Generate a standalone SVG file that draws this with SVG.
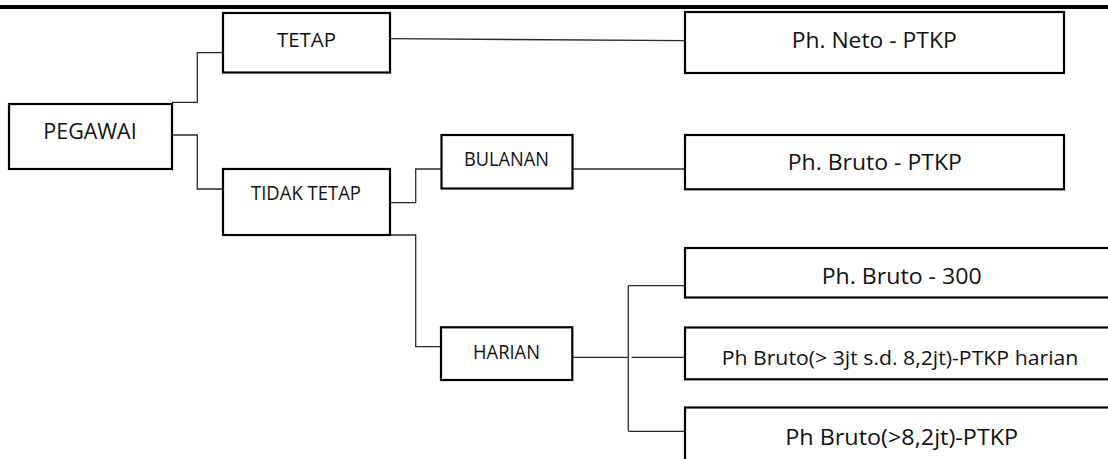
<svg xmlns="http://www.w3.org/2000/svg" width="1108" height="459" viewBox="0 0 1108 459">
<style>
.box{fill:#fff;stroke:#000;stroke-width:2.2}
.conn{fill:none;stroke:#2a2a2a;stroke-width:1.3}
text{font-family:"Open Sans","Noto Sans","Liberation Sans",sans-serif;fill:#111;text-anchor:middle}
.s{font-size:19.5px}
.l{font-size:22.5px}
</style>
<rect x="0" y="0" width="1108" height="459" fill="#fff"/>
<rect x="0" y="5" width="1108" height="4" fill="#000"/>
<g id="connectors">
<polyline class="conn" points="172,102.3 197.3,102.3 197.3,52.7 223,52.7"/>
<polyline class="conn" points="172,135 197.3,135 197.3,189 223,189"/>
<line class="conn" x1="390" y1="38.7" x2="685" y2="40.7"/>
<polyline class="conn" points="390,202.7 415.7,202.7 415.7,169 441,169"/>
<polyline class="conn" points="390,235 415.7,235 415.7,346.7 441,346.7"/>
<line class="conn" x1="572" y1="169" x2="685" y2="169"/>
<line class="conn" x1="572" y1="357.3" x2="628.3" y2="357.3"/>
<line class="conn" x1="631.5" y1="357.3" x2="685" y2="357.3"/>
<line class="conn" x1="628.3" y1="285.7" x2="628.3" y2="431.3"/>
<line class="conn" x1="628.3" y1="285.7" x2="685" y2="285.7"/>
<line class="conn" x1="628.3" y1="431.3" x2="685" y2="431.3"/>
</g>
<g id="pegawai"><rect class="box" x="9" y="104" width="163" height="65"/><text class="l" x="90" y="139.3" textLength="93.4" lengthAdjust="spacingAndGlyphs">PEGAWAI</text></g>
<g id="tetap"><rect class="box" x="223" y="13" width="167" height="59.5"/><text class="s" x="306.5" y="46.7" textLength="59" lengthAdjust="spacingAndGlyphs">TETAP</text></g>
<g id="tidak-tetap"><rect class="box" x="223" y="169" width="167" height="66"/><text class="s" x="306" y="200" textLength="110" lengthAdjust="spacingAndGlyphs">TIDAK TETAP</text></g>
<g id="bulanan"><rect class="box" x="441.5" y="135" width="131" height="53.5"/><text class="s" x="506.5" y="165.7" textLength="85" lengthAdjust="spacingAndGlyphs">BULANAN</text></g>
<g id="harian"><rect class="box" x="441" y="327.3" width="131.3" height="52.7"/><text class="s" x="506.5" y="359" textLength="67" lengthAdjust="spacingAndGlyphs">HARIAN</text></g>
<g id="neto-ptkp"><rect class="box" x="685" y="12" width="379" height="61"/><text class="l" x="874.2" y="48.3" textLength="165" lengthAdjust="spacingAndGlyphs">Ph. Neto - PTKP</text></g>
<g id="bruto-ptkp"><rect class="box" x="685" y="135" width="379" height="54.3"/><text class="l" x="874.8" y="170" textLength="174" lengthAdjust="spacingAndGlyphs">Ph. Bruto - PTKP</text></g>
<g id="bruto-300"><rect class="box" x="685" y="248" width="440" height="49.5"/><text class="l" x="901.7" y="284" textLength="160" lengthAdjust="spacingAndGlyphs">Ph. Bruto - 300</text></g>
<g id="bruto-harian"><rect class="box" x="685" y="327.5" width="440" height="51.8"/><text class="s" x="900" y="365" textLength="356.7" lengthAdjust="spacingAndGlyphs">Ph Bruto(&gt; 3jt s.d. 8,2jt)-PTKP harian</text></g>
<g id="bruto-82"><rect class="box" x="685" y="407.5" width="440" height="80"/><text class="l" x="901.7" y="445" textLength="233" lengthAdjust="spacingAndGlyphs">Ph Bruto(&gt;8,2jt)-PTKP</text></g>
</svg>
